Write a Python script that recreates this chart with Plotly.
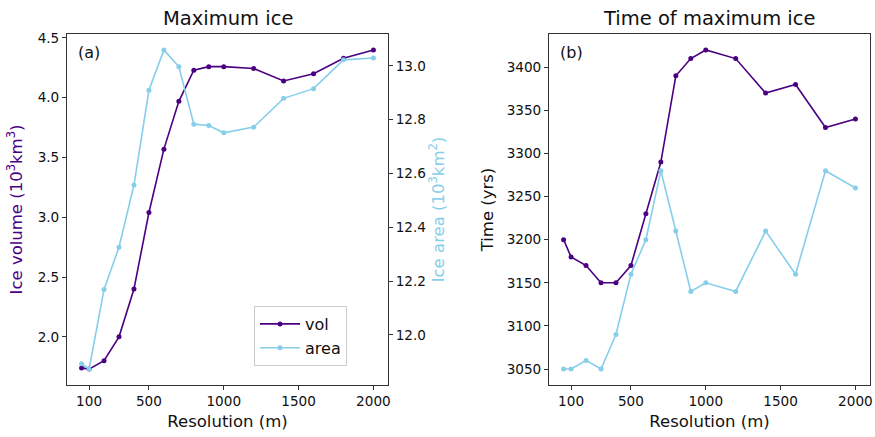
import plotly.graph_objects as go

resolution = [50, 100, 200, 300, 400, 500, 600, 700, 800, 900, 1000, 1200, 1400, 1600, 1800, 2000]
ice_volume = [1.74, 1.73, 1.80, 2.00, 2.40, 3.04, 3.57, 3.97, 4.23, 4.26, 4.26, 4.245, 4.14, 4.20, 4.33, 4.40]
ice_area = [11.893, 11.873, 12.169, 12.326, 12.557, 12.909, 13.059, 12.996, 12.783, 12.778, 12.751, 12.772, 12.879, 12.915, 13.022, 13.029]
time_vol = [3200, 3180, 3170, 3150, 3150, 3170, 3230, 3290, 3390, 3410, 3420, 3410, 3370, 3380, 3330, 3340]
time_area = [3050, 3050, 3060, 3050, 3090, 3160, 3200, 3280, 3210, 3140, 3150, 3140, 3210, 3160, 3280, 3260]

x_ticks = [100, 500, 1000, 1500, 2000]
vol_ticks = [2.0, 2.5, 3.0, 3.5, 4.0, 4.5]
area_ticks = [12.0, 12.2, 12.4, 12.6, 12.8, 13.0]
time_ticks = [3050, 3100, 3150, 3200, 3250, 3300, 3350, 3400]

VOL = "#4B0082"
AREA = "#87CEEB"
FONT = "DejaVu Sans"
W, H = 875, 437

def px_x(x):
    return x / W

def px_y(y):
    return 1 - y / H

fig = go.Figure()
line_kw = dict(mode="lines+markers")
fig.add_trace(go.Scatter(x=resolution, y=ice_volume, name="vol", line=dict(color=VOL, width=1.6),
                         marker=dict(size=5, color=VOL), xaxis="x", yaxis="y", **line_kw))
fig.add_trace(go.Scatter(x=resolution, y=ice_area, name="area", line=dict(color=AREA, width=1.6),
                         marker=dict(size=5, color=AREA), xaxis="x", yaxis="y2", **line_kw))
fig.add_trace(go.Scatter(x=resolution, y=time_vol, showlegend=False, line=dict(color=VOL, width=1.6),
                         marker=dict(size=5, color=VOL), xaxis="x2", yaxis="y3", **line_kw))
fig.add_trace(go.Scatter(x=resolution, y=time_area, showlegend=False, line=dict(color=AREA, width=1.6),
                         marker=dict(size=5, color=AREA), xaxis="x2", yaxis="y3", **line_kw))

ax_common = dict(showgrid=False, zeroline=False, showline=True, linecolor="#333333", linewidth=1,
                 ticks="outside", ticklen=4, tickwidth=1, tickcolor="#333333", automargin=False,
                 tickfont=dict(family=FONT, size=13.6, color="#111111"))

ydom = [px_y(385), px_y(34)]
xr = [-47.5, 2097.5]

fig.update_layout(
    width=W, height=H,
    margin=dict(l=0, r=0, t=0, b=0, autoexpand=False),
    paper_bgcolor="white", plot_bgcolor="white",
    font=dict(family=FONT, color="#111111"),
    xaxis=dict(domain=[px_x(67), px_x(388)], range=xr, tickvals=x_ticks, anchor="y", mirror=True,
               title=dict(text="Resolution (m)", font=dict(size=16.5), standoff=7), **ax_common),
    yaxis=dict(domain=ydom, range=[1.597, 4.533], tickvals=vol_ticks, tickformat=".1f", anchor="x",
               mirror=False,
               title=dict(text="Ice volume (10<sup>3</sup>km<sup>3</sup>)", font=dict(size=16.5, color=VOL), standoff=10),
               **ax_common),
    yaxis2=dict(range=[11.814, 13.118], tickvals=area_ticks, tickformat=".1f", overlaying="y", side="right",
                anchor="x",
                title=dict(text="Ice area (10<sup>3</sup>km<sup>2</sup>)", font=dict(size=16.5, color=AREA), standoff=6),
                **ax_common),
    xaxis2=dict(domain=[px_x(549), px_x(870)], range=xr, tickvals=x_ticks, anchor="y3", mirror=True,
                title=dict(text="Resolution (m)", font=dict(size=16.5), standoff=7), **ax_common),
    yaxis3=dict(domain=ydom, range=[3031.5, 3438.5], tickvals=time_ticks, anchor="x2", mirror=True,
                title=dict(text="Time (yrs)", font=dict(size=16.5), standoff=8), **ax_common),
    legend=dict(x=px_x(347), y=px_y(366), xanchor="right", yanchor="bottom",
                bgcolor="white", bordercolor="#cccccc", borderwidth=1,
                font=dict(family=FONT, size=16, color="#111111"), itemwidth=40,
                tracegroupgap=2),
    annotations=[
        dict(text="Maximum ice", x=px_x(227.5), y=px_y(19), xref="paper", yref="paper",
             xanchor="center", yanchor="middle", showarrow=False, font=dict(size=19.5)),
        dict(text="Time of maximum ice", x=px_x(709.5), y=px_y(19), xref="paper", yref="paper",
             xanchor="center", yanchor="middle", showarrow=False, font=dict(size=19.5)),
        dict(text="(a)", x=px_x(76), y=px_y(53), xref="paper", yref="paper",
             xanchor="left", yanchor="middle", showarrow=False, font=dict(size=16)),
        dict(text="(b)", x=px_x(558), y=px_y(53), xref="paper", yref="paper",
             xanchor="left", yanchor="middle", showarrow=False, font=dict(size=16)),
    ],
)

fig.write_html("out.html", config={"displayModeBar": False},
               post_script="document.body.style.margin='0';document.body.style.overflow='hidden';")
